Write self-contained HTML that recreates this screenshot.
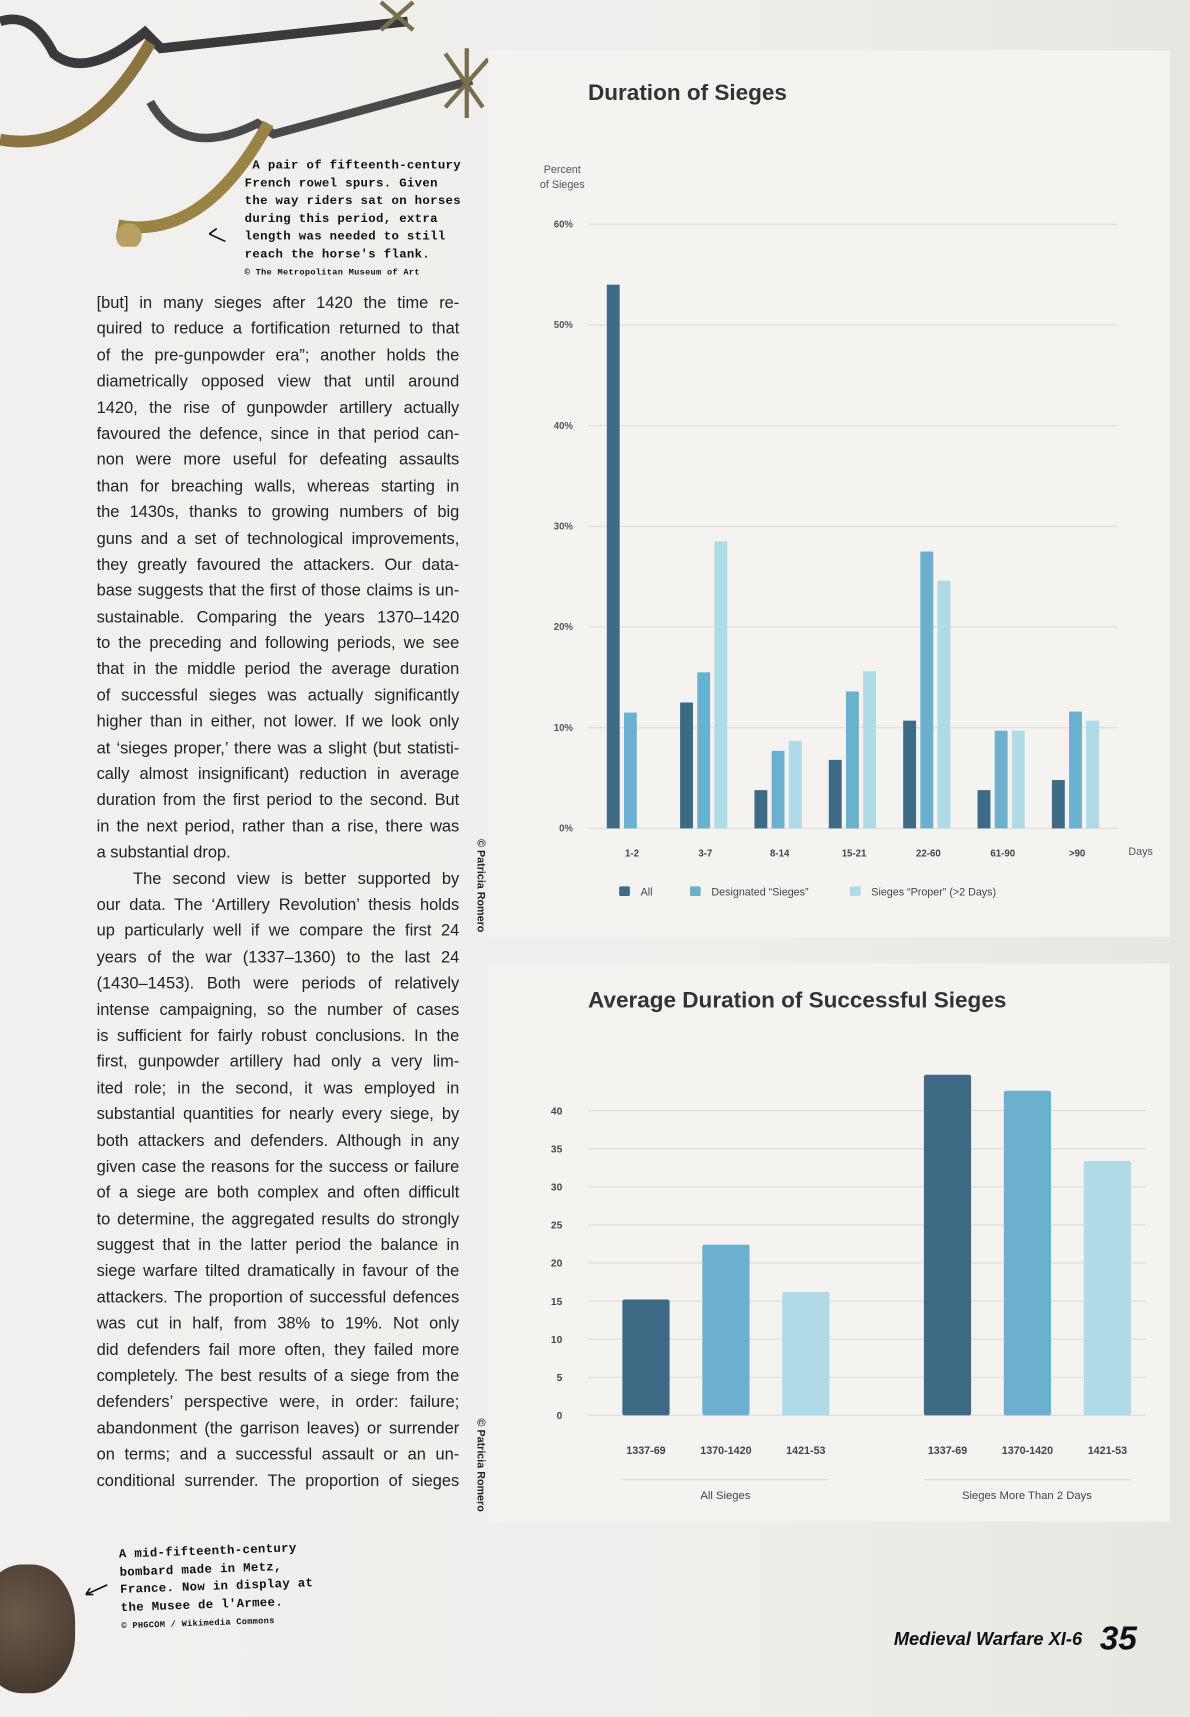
<!DOCTYPE html>
<html><head><meta charset="utf-8">
<style>
html,body{margin:0;padding:0;}
body{width:1190px;height:1683px;overflow:hidden;background:linear-gradient(90deg,#f1f0ee 0%,#efeeeb 60%,#e8e6e1 100%);}
#wrap{position:absolute;left:0;top:0;width:1109px;height:1600px;transform:scale(1.07304);transform-origin:0 0;background:linear-gradient(90deg,#f1f0ee 0%,#efeeeb 60%,#e8e6e1 100%);font-family:"Liberation Sans",sans-serif;}
.panel{position:absolute;left:455px;width:635px;background:#f5f3f0;}
.txt{position:absolute;left:90px;width:338px;font-size:15.3px;color:#222;}
.ln{height:24.4px;line-height:24.4px;text-align:justify;text-align-last:justify;white-space:nowrap;}
.ln.last{text-align-last:left;}
.cap{position:absolute;font-family:"Liberation Mono",monospace;font-weight:bold;font-size:11.5px;line-height:16.5px;color:#111;letter-spacing:0.3px;}
.vert{position:absolute;transform:rotate(90deg);transform-origin:0 0;font-size:10px;font-weight:bold;color:#222;white-space:nowrap;}
</style></head>
<body>
<div id="wrap">
<svg style="position:absolute;left:0;top:0" width="470" height="230">
 <path d="M0,20 Q30,10 50,50 Q80,75 135,30 L150,45 L380,20" stroke="#3a3a3c" stroke-width="9" fill="none"/>
 <path d="M0,130 Q80,145 140,40" stroke="#8a7440" stroke-width="11" fill="none"/>
 <path d="M140,95 Q170,150 240,115 L255,125 L440,75" stroke="#4a4a4c" stroke-width="8" fill="none"/>
 <path d="M110,210 Q190,225 250,115" stroke="#9a8445" stroke-width="11" fill="none"/>
 <circle cx="120" cy="220" r="12" fill="#b8a060"/>
 <g stroke="#77704f" stroke-width="4"><line x1="355" y1="2" x2="385" y2="28"/><line x1="385" y1="2" x2="355" y2="28"/><line x1="415" y1="50" x2="450" y2="100"/><line x1="455" y1="55" x2="415" y2="100"/><line x1="435" y1="45" x2="435" y2="110"/></g>
 <path d="M210,225 L195,218 M195,218 L202,213" stroke="#111" stroke-width="1.5" fill="none"/>
</svg>
<div class="cap" style="left:228px;top:147px;width:220px;">&nbsp;A pair of fifteenth-century<br>French rowel spurs. Given<br>the way riders sat on horses<br>during this period, extra<br>length was needed to still<br>reach the horse's flank.<br><span style="font-size:8px">© The Metropolitan Museum of Art</span></div>

<div class="txt" style="top:271px;">
<div class="ln">[but] in many sieges after 1420 the time re-</div>
<div class="ln">quired to reduce a fortification returned to that</div>
<div class="ln">of the pre-gunpowder era”; another holds the</div>
<div class="ln">diametrically opposed view that until around</div>
<div class="ln">1420, the rise of gunpowder artillery actually</div>
<div class="ln">favoured the defence, since in that period can-</div>
<div class="ln">non were more useful for defeating assaults</div>
<div class="ln">than for breaching walls, whereas starting in</div>
<div class="ln">the 1430s, thanks to growing numbers of big</div>
<div class="ln">guns and a set of technological improvements,</div>
<div class="ln">they greatly favoured the attackers. Our data-</div>
<div class="ln">base suggests that the first of those claims is un-</div>
<div class="ln">sustainable. Comparing the years 1370–1420</div>
<div class="ln">to the preceding and following periods, we see</div>
<div class="ln">that in the middle period the average duration</div>
<div class="ln">of successful sieges was actually significantly</div>
<div class="ln">higher than in either, not lower. If we look only</div>
<div class="ln">at ‘sieges proper,’ there was a slight (but statisti-</div>
<div class="ln">cally almost insignificant) reduction in average</div>
<div class="ln">duration from the first period to the second. But</div>
<div class="ln">in the next period, rather than a rise, there was</div>
<div class="ln last">a substantial drop.</div>
<div class="ln" style="padding-left:34px">The second view is better supported by</div>
<div class="ln">our data. The ‘Artillery Revolution’ thesis holds</div>
<div class="ln">up particularly well if we compare the first 24</div>
<div class="ln">years of the war (1337–1360) to the last 24</div>
<div class="ln">(1430–1453). Both were periods of relatively</div>
<div class="ln">intense campaigning, so the number of cases</div>
<div class="ln">is sufficient for fairly robust conclusions. In the</div>
<div class="ln">first, gunpowder artillery had only a very lim-</div>
<div class="ln">ited role; in the second, it was employed in</div>
<div class="ln">substantial quantities for nearly every siege, by</div>
<div class="ln">both attackers and defenders. Although in any</div>
<div class="ln">given case the reasons for the success or failure</div>
<div class="ln">of a siege are both complex and often difficult</div>
<div class="ln">to determine, the aggregated results do strongly</div>
<div class="ln">suggest that in the latter period the balance in</div>
<div class="ln">siege warfare tilted dramatically in favour of the</div>
<div class="ln">attackers. The proportion of successful defences</div>
<div class="ln">was cut in half, from 38% to 19%. Not only</div>
<div class="ln">did defenders fail more often, they failed more</div>
<div class="ln">completely. The best results of a siege from the</div>
<div class="ln">defenders’ perspective were, in order: failure;</div>
<div class="ln">abandonment (the garrison leaves) or surrender</div>
<div class="ln">on terms; and a successful assault or an un-</div>
<div class="ln">conditional surrender. The proportion of sieges</div>
</div>

<div class="vert" style="left:453px;top:782px;">© Patricia Romero</div>
<div class="vert" style="left:453px;top:1322px;">© Patricia Romero</div>

<div class="panel" style="top:47px;height:826px;"></div>
<div class="panel" style="top:898px;height:520px;"></div>

<svg id="c1" style="position:absolute;left:0;top:0" width="1109" height="900" font-family="Liberation Sans, sans-serif"></svg>
<svg id="c2" style="position:absolute;left:0;top:0" width="1109" height="1450" font-family="Liberation Sans, sans-serif"></svg>

<div style="position:absolute;left:-20px;top:1458px;width:90px;height:120px;border-radius:45%;background:radial-gradient(circle at 40% 40%,#6b5a48,#3d3228);"></div>
<div class="cap" style="left:112px;top:1438px;width:200px;transform:rotate(-2deg);">A mid-fifteenth-century<br>bombard made in Metz,<br>France. Now in display at<br>the Musee de l'Armee.<br><span style="font-size:8px">© PHGCOM / Wikimedia Commons</span></div>
<svg style="position:absolute;left:75px;top:1474px" width="30" height="20"><path d="M25,3 L5,12 M5,12 L12,12 M5,12 L9,6" stroke="#111" stroke-width="1.5" fill="none"/></svg>

<div style="position:absolute;left:833px;top:1518px;font-size:17px;font-style:italic;font-weight:bold;color:#111;">Medieval Warfare XI-6</div>
<div style="position:absolute;left:1025px;top:1509px;font-size:31px;font-style:italic;font-weight:bold;color:#111;">35</div>
</div>

<script>
const NS='http://www.w3.org/2000/svg';
function mk(svg,tag,attrs,text){const e=document.createElementNS(NS,tag);for(const k in attrs)e.setAttribute(k,attrs[k]);if(text!==undefined)e.textContent=text;svg.appendChild(e);return e;}
const colors=['#3d6a85','#6cb0cf','#aedbe6'];

// Chart 1 data
const durCategories=['1-2','3-7','8-14','15-21','22-60','61-90','>90'];
const durAll=[54,12.5,3.8,6.8,10.7,3.8,4.8];
const durDesignated=[11.5,15.5,7.7,13.6,27.5,9.7,11.6];
const durProper=[0,28.5,8.7,15.6,24.6,9.7,10.7];
const durTicks=[0,10,20,30,40,50,60];
const durLegend=['All','Designated “Sieges”','Sieges “Proper” (>2 Days)'];

// Chart 2 data
const avgPeriods=['1337-69','1370-1420','1421-53'];
const avgGroups=['All Sieges','Sieges More Than 2 Days'];
const avgAllSieges=[15.2,22.4,16.2];
const avgMore2Days=[44.7,42.6,33.4];
const avgTicks=[0,5,10,15,20,25,30,35,40];

(function(){
 const s=document.getElementById('c1');
 const y=v=>772-v*(772-209)/60;
 const x=i=>589+i*69.3;
 const t=mk(s,'text',{x:548,y:93,'font-size':21,'font-weight':'bold',fill:'#333'},'Duration of Sieges');
 
 const a=mk(s,'text',{x:524,y:161,'font-size':10,fill:'#555','text-anchor':'middle'},'Percent');
 
 mk(s,'text',{x:524,y:175,'font-size':10,fill:'#555','text-anchor':'middle'},'of Sieges');
 durTicks.forEach(v=>{
  const g=mk(s,'line',{x1:548,x2:1042,y1:y(v),y2:y(v),stroke:'#dedcd8','stroke-width':1});
  
  const l=mk(s,'text',{x:534,y:y(v)+3,'font-size':9,'font-weight':'bold',fill:'#555','text-anchor':'end'},v+'%');
  
 });
 const series=[durAll,durDesignated,durProper];
 durCategories.forEach((c,i)=>{
  const cx=x(i)+(i===0?0:-1);
  series.forEach((ser,k)=>{
   if(ser[i]<=0)return;
   const bx=cx-7.5+(k-1)*16;
   const r=mk(s,'rect',{x:bx,y:y(ser[i]),width:12,height:772-y(ser[i]),fill:colors[k]});
   
  });
  const l=mk(s,'text',{x:cx,y:798,'font-size':9,'font-weight':'bold',fill:'#444','text-anchor':'middle'},c);
  
 });
 const d=mk(s,'text',{x:1063,y:797,'font-size':10,fill:'#555','text-anchor':'middle'},'Days');
 
 const lx=[577,643,792];
 durLegend.forEach((n,k)=>{
  const r=mk(s,'rect',{x:lx[k],y:826,width:10,height:9,rx:1.5,fill:colors[k]});
  
  const tt=mk(s,'text',{x:lx[k]+20,y:834.5,'font-size':10,fill:'#444'},n);
  
 });
})();

(function(){
 const s=document.getElementById('c2');
 const y=v=>1319-v*(1319-1035)/40;
 const t=mk(s,'text',{x:548,y:939,'font-size':21,'font-weight':'bold',fill:'#333'},'Average Duration of Successful Sieges');
 
 avgTicks.forEach(v=>{
  const g=mk(s,'line',{x1:548,x2:1068,y1:y(v),y2:y(v),stroke:'#dedcd8','stroke-width':1});
  
  const l=mk(s,'text',{x:524,y:y(v)+3.5,'font-size':9.5,'font-weight':'bold',fill:'#444','text-anchor':'end'},v);
  
 });
 const groups=[avgAllSieges,avgMore2Days];
 const gx=[580,861];
 groups.forEach((ser,g)=>{
  ser.forEach((v,i)=>{
   const bx=gx[g]+i*74.5;
   const r=mk(s,'rect',{x:bx,y:y(v),width:44,height:1319-y(v),rx:2,fill:colors[i]});
   
   const l=mk(s,'text',{x:bx+22,y:1355,'font-size':10,'font-weight':'bold',fill:'#444','text-anchor':'middle'},avgPeriods[i]);
   
  });
  const sep=mk(s,'line',{x1:gx[g],x2:gx[g]+193,y1:1379,y2:1379,stroke:'#dcdad6','stroke-width':1});
  
  const gl=mk(s,'text',{x:gx[g]+96,y:1397,'font-size':10.5,fill:'#444','text-anchor':'middle'},avgGroups[g]);
  
 });
})();
</script>
</body></html>
